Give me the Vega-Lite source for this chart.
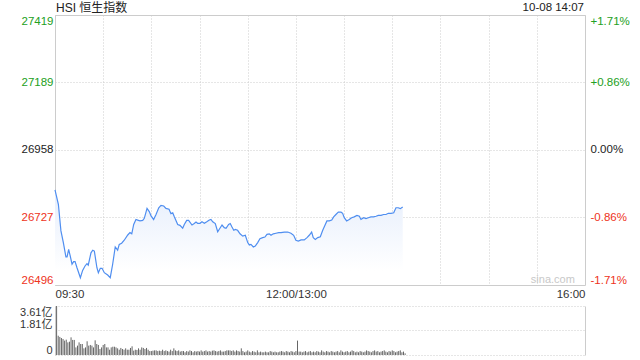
{
  "$schema": "https://vega.github.io/schema/vega-lite/v6.json",
  "padding": {"top": 1, "left": 5, "right": 5, "bottom": 5},
  "background": "#ffffff",
  "spacing": 5,
  "config": {
    "font": "Liberation Sans, Noto Sans CJK SC",
    "axis": {"labelFont": "Liberation Sans, Noto Sans CJK SC", "labelFontSize": 11.5, "labelColor": "#333"}
  },
  "datasets": {
    "line": [
      {"t":0,"p":26821},{"t":2.1,"p":26772},{"t":3.7,"p":26681},{"t":5.2,"p":26641},{"t":6.8,"p":26592},{"t":7.5,"p":26592},{"t":8.5,"p":26618},{"t":9.5,"p":26595},{"t":10.6,"p":26567},{"t":11.6,"p":26576},{"t":12.5,"p":26576},{"t":13.7,"p":26555},{"t":15.8,"p":26521},{"t":17.2,"p":26546},{"t":18.7,"p":26561},{"t":19.9,"p":26569},{"t":20.7,"p":26564},{"t":22.4,"p":26606},{"t":23.5,"p":26615},{"t":24.5,"p":26612},{"t":26.1,"p":26555},{"t":27.0,"p":26538},{"t":28.2,"p":26553},{"t":29.3,"p":26553},{"t":30.7,"p":26538},{"t":32.8,"p":26530},{"t":34.4,"p":26521},{"t":35.9,"p":26567},{"t":37.5,"p":26626},{"t":39.0,"p":26615},{"t":40.0,"p":26635},{"t":41.5,"p":26639},{"t":43.1,"p":26649},{"t":45.3,"p":26667},{"t":46.7,"p":26675},{"t":47.8,"p":26671},{"t":49.0,"p":26703},{"t":50.4,"p":26720},{"t":51.9,"p":26717},{"t":52.9,"p":26715},{"t":54.6,"p":26717},{"t":55.6,"p":26724},{"t":57.3,"p":26758},{"t":58.7,"p":26747},{"t":59.8,"p":26732},{"t":61.4,"p":26720},{"t":62.9,"p":26737},{"t":64.6,"p":26760},{"t":66.0,"p":26768},{"t":67.7,"p":26766},{"t":69.1,"p":26758},{"t":71.0,"p":26755},{"t":72.2,"p":26740},{"t":73.3,"p":26743},{"t":74.3,"p":26729},{"t":76.4,"p":26703},{"t":77.8,"p":26700},{"t":79.5,"p":26690},{"t":80.5,"p":26703},{"t":82.0,"p":26717},{"t":83.2,"p":26717},{"t":85.3,"p":26701},{"t":86.7,"p":26706},{"t":87.8,"p":26711},{"t":88.8,"p":26707},{"t":90.3,"p":26707},{"t":91.5,"p":26712},{"t":93.0,"p":26707},{"t":94.5,"p":26712},{"t":96.1,"p":26718},{"t":97.1,"p":26720},{"t":98.2,"p":26712},{"t":99.8,"p":26706},{"t":101.3,"p":26678},{"t":102.7,"p":26690},{"t":104.0,"p":26701},{"t":105.4,"p":26692},{"t":106.5,"p":26690},{"t":108.1,"p":26703},{"t":109.1,"p":26706},{"t":110.2,"p":26694},{"t":111.3,"p":26683},{"t":112.3,"p":26686},{"t":113.7,"p":26683},{"t":115.2,"p":26671},{"t":116.9,"p":26663},{"t":118.5,"p":26666},{"t":120.0,"p":26641},{"t":121.0,"p":26633},{"t":122.0,"p":26635},{"t":123.5,"p":26626},{"t":124.7,"p":26629},{"t":126.2,"p":26641},{"t":127.6,"p":26654},{"t":129.3,"p":26658},{"t":130.7,"p":26660},{"t":132.0,"p":26669},{"t":133.4,"p":26671},{"t":134.5,"p":26666},{"t":135.9,"p":26671},{"t":137.6,"p":26673},{"t":139.3,"p":26675},{"t":140.7,"p":26675},{"t":142.8,"p":26677},{"t":144.9,"p":26677},{"t":146.9,"p":26673},{"t":148.6,"p":26666},{"t":150.0,"p":26649},{"t":151.5,"p":26646},{"t":153.2,"p":26650},{"t":155.2,"p":26650},{"t":156.9,"p":26658},{"t":158.3,"p":26666},{"t":159.8,"p":26677},{"t":160.8,"p":26658},{"t":162.1,"p":26652},{"t":163.6,"p":26658},{"t":165.2,"p":26661},{"t":166.7,"p":26683},{"t":168.1,"p":26700},{"t":169.3,"p":26715},{"t":170.8,"p":26715},{"t":172.3,"p":26718},{"t":173.5,"p":26729},{"t":174.9,"p":26737},{"t":176.4,"p":26745},{"t":178.1,"p":26745},{"t":179.1,"p":26741},{"t":180.1,"p":26726},{"t":181.6,"p":26715},{"t":183.2,"p":26720},{"t":184.7,"p":26726},{"t":186.3,"p":26729},{"t":188.0,"p":26734},{"t":189.5,"p":26731},{"t":190.5,"p":26720},{"t":192.2,"p":26726},{"t":193.6,"p":26723},{"t":195.1,"p":26726},{"t":196.7,"p":26729},{"t":198.4,"p":26729},{"t":199.9,"p":26731},{"t":201.3,"p":26734},{"t":203.0,"p":26734},{"t":204.6,"p":26737},{"t":206.1,"p":26737},{"t":207.5,"p":26741},{"t":209.2,"p":26741},{"t":210.9,"p":26743},{"t":212.3,"p":26760},{"t":213.7,"p":26760},{"t":215.0,"p":26757},{"t":216.5,"p":26763}
    ],
    "vol": [
      {"i":0,"v":3.61},{"i":1,"v":1.42},{"i":2,"v":1.33},{"i":3,"v":1.25},{"i":4,"v":1.18},{"i":5,"v":1.06},{"i":6,"v":1.13},{"i":7,"v":0.93},{"i":8,"v":0.98},{"i":9,"v":1.30},{"i":10,"v":1.11},
      {"i":11,"v":1.11},{"i":12,"v":0.56},{"i":13,"v":0.69},{"i":14,"v":0.93},{"i":15,"v":0.81},{"i":16,"v":0.81},{"i":17,"v":0.49},{"i":18,"v":0.56},{"i":19,"v":1.01},{"i":20,"v":0.69},
      {"i":21,"v":0.74},{"i":22,"v":0.69},{"i":23,"v":0.56},{"i":24,"v":1.08},{"i":25,"v":0.81},{"i":26,"v":0.74},{"i":27,"v":0.44},{"i":28,"v":0.56},{"i":29,"v":0.74},{"i":30,"v":0.81},
      {"i":31,"v":0.56},{"i":32,"v":0.56},{"i":33,"v":0.39},{"i":34,"v":0.56},{"i":35,"v":0.61},{"i":36,"v":0.61},{"i":37,"v":0.56},{"i":38,"v":0.49},{"i":39,"v":0.39},{"i":40,"v":0.52},
      {"i":41,"v":0.44},{"i":42,"v":0.39},{"i":43,"v":0.49},{"i":44,"v":0.39},{"i":45,"v":0.39},{"i":46,"v":0.52},{"i":47,"v":0.64},{"i":48,"v":0.32},{"i":49,"v":0.39},{"i":50,"v":0.37},
      {"i":51,"v":0.49},{"i":52,"v":0.39},{"i":53,"v":0.56},{"i":54,"v":0.52},{"i":55,"v":0.44},{"i":56,"v":0.52},{"i":57,"v":0.39},{"i":58,"v":0.29},{"i":59,"v":0.29},{"i":60,"v":0.32},
      {"i":61,"v":0.34},{"i":62,"v":0.34},{"i":63,"v":0.29},{"i":64,"v":0.32},{"i":65,"v":0.29},{"i":66,"v":0.39},{"i":67,"v":0.29},{"i":68,"v":0.34},{"i":69,"v":0.29},{"i":70,"v":0.25},
      {"i":71,"v":0.39},{"i":72,"v":0.29},{"i":73,"v":0.49},{"i":74,"v":0.34},{"i":75,"v":0.29},{"i":76,"v":0.34},{"i":77,"v":0.25},{"i":78,"v":0.29},{"i":79,"v":0.29},{"i":80,"v":0.20},
      {"i":81,"v":0.29},{"i":82,"v":0.25},{"i":83,"v":0.34},{"i":84,"v":0.29},{"i":85,"v":0.20},{"i":86,"v":0.29},{"i":87,"v":0.25},{"i":88,"v":0.29},{"i":89,"v":0.25},{"i":90,"v":0.34},
      {"i":91,"v":0.25},{"i":92,"v":0.29},{"i":93,"v":0.34},{"i":94,"v":0.25},{"i":95,"v":0.29},{"i":96,"v":0.25},{"i":97,"v":0.32},{"i":98,"v":0.34},{"i":99,"v":0.29},{"i":100,"v":0.25},
      {"i":101,"v":0.29},{"i":102,"v":0.34},{"i":103,"v":0.25},{"i":104,"v":0.25},{"i":105,"v":0.29},{"i":106,"v":0.34},{"i":107,"v":0.34},{"i":108,"v":0.34},{"i":109,"v":0.29},{"i":110,"v":0.34},
      {"i":111,"v":0.25},{"i":112,"v":0.34},{"i":113,"v":0.29},{"i":114,"v":0.25},{"i":115,"v":0.49},{"i":116,"v":0.29},{"i":117,"v":0.20},{"i":118,"v":0.25},{"i":119,"v":0.34},{"i":120,"v":0.25},
      {"i":121,"v":0.20},{"i":122,"v":0.29},{"i":123,"v":0.25},{"i":124,"v":0.20},{"i":125,"v":0.34},{"i":126,"v":0.20},{"i":127,"v":0.25},{"i":128,"v":0.20},{"i":129,"v":0.20},{"i":130,"v":0.25},
      {"i":131,"v":0.20},{"i":132,"v":0.20},{"i":133,"v":0.29},{"i":134,"v":0.25},{"i":135,"v":0.20},{"i":136,"v":0.25},{"i":137,"v":0.20},{"i":138,"v":0.20},{"i":139,"v":0.25},{"i":140,"v":0.29},
      {"i":141,"v":0.25},{"i":142,"v":0.20},{"i":143,"v":0.29},{"i":144,"v":0.25},{"i":145,"v":0.20},{"i":146,"v":0.29},{"i":147,"v":0.25},{"i":148,"v":0.20},{"i":149,"v":0.29},{"i":150,"v":1.06},
      {"i":151,"v":0.25},{"i":152,"v":0.25},{"i":153,"v":0.20},{"i":154,"v":0.25},{"i":155,"v":0.29},{"i":156,"v":0.20},{"i":157,"v":0.25},{"i":158,"v":0.29},{"i":159,"v":0.20},{"i":160,"v":0.25},
      {"i":161,"v":0.20},{"i":162,"v":0.29},{"i":163,"v":0.25},{"i":164,"v":0.20},{"i":165,"v":0.34},{"i":166,"v":0.25},{"i":167,"v":0.20},{"i":168,"v":0.29},{"i":169,"v":0.25},{"i":170,"v":0.20},
      {"i":171,"v":0.29},{"i":172,"v":0.25},{"i":173,"v":0.20},{"i":174,"v":0.25},{"i":175,"v":0.29},{"i":176,"v":0.20},{"i":177,"v":0.34},{"i":178,"v":0.25},{"i":179,"v":0.20},{"i":180,"v":0.25},
      {"i":181,"v":0.29},{"i":182,"v":0.20},{"i":183,"v":0.25},{"i":184,"v":0.34},{"i":185,"v":0.29},{"i":186,"v":0.20},{"i":187,"v":0.25},{"i":188,"v":0.20},{"i":189,"v":0.29},{"i":190,"v":0.25},
      {"i":191,"v":0.20},{"i":192,"v":0.25},{"i":193,"v":0.34},{"i":194,"v":0.29},{"i":195,"v":0.25},{"i":196,"v":0.20},{"i":197,"v":0.29},{"i":198,"v":0.34},{"i":199,"v":0.25},{"i":200,"v":0.29},
      {"i":201,"v":0.20},{"i":202,"v":0.25},{"i":203,"v":0.29},{"i":204,"v":0.34},{"i":205,"v":0.25},{"i":206,"v":0.20},{"i":207,"v":0.29},{"i":208,"v":0.25},{"i":209,"v":0.34},{"i":210,"v":0.29},
      {"i":211,"v":0.20},{"i":212,"v":0.25},{"i":213,"v":0.29},{"i":214,"v":0.34},{"i":215,"v":0.20},{"i":216,"v":0.25},{"i":217,"v":0.12}
    ]
  },
  "vconcat": [
    {
      "width": 530,
      "height": 270,
      "view": {"stroke": "#cccccc", "strokeWidth": 1},
      "layer": [
        {
          "data": {"name": "line"},
          "mark": {"type": "area", "color": {"x1": 0, "y1": 0, "x2": 0, "y2": 1, "gradient": "linear", "stops": [{"offset": 0, "color": "#e6eefc"}, {"offset": 0.85, "color": "#ffffff"}]}},
          "encoding": {
            "x": {"field": "t", "type": "quantitative", "scale": {"domain": [0, 330], "nice": false, "zero": false},
              "axis": {"title": null, "values": [0,30,60,90,120,150,180,210,240,270,300,330], "grid": true, "gridColor": "#cccccc", "gridDash": [1, 2], "ticks": false, "domain": false, "labelFlush": true, "labelOverlap": false, "labelPadding": 3,
                "labelExpr": "datum.value == 0 ? '09:30' : datum.value == 150 ? '12:00/13:00' : datum.value == 330 ? '16:00' : ''"}},
            "y": {"field": "p", "type": "quantitative", "scale": {"domain": [26496, 27419], "nice": false, "zero": false},
              "axis": {"title": null, "orient": "left", "format": "d", "values": [26496, 26727, 26958, 27189, 27419], "grid": true, "gridColor": "#cccccc", "gridDash": [1, 2], "ticks": false, "domain": false, "labelFlush": true, "labelPadding": 2, "minExtent": 49, "maxExtent": 49,
                "labelColor": {"condition": [{"test": "datum.value > 26960", "value": "#22a022"}, {"test": "datum.value < 26956", "value": "#ee3322"}], "value": "#222222"}}},
            "y2": {"datum": 26496}
          }
        },
        {
          "data": {"name": "line"},
          "mark": {"type": "line", "color": "#4f8ef0", "strokeWidth": 1.2},
          "encoding": {
            "x": {"field": "t", "type": "quantitative"},
            "y": {"field": "p", "type": "quantitative", "scale": {"domain": [26496, 27419], "nice": false, "zero": false},
              "axis": {"title": null, "orient": "right", "values": [26496, 26727, 26958, 27189, 27419], "grid": false, "ticks": false, "domain": false, "labelFlush": true, "labelPadding": 5,
                "labelExpr": "abs(datum.value - 26958) < 1 ? '0.00%' : (datum.value > 26958 ? '+' : '-') + format(abs(datum.value - 26958) / 26958 * 100, '.2f') + '%'",
                "labelColor": {"condition": [{"test": "datum.value > 26960", "value": "#22a022"}, {"test": "datum.value < 26956", "value": "#ee3322"}], "value": "#222222"}}}
          }
        },
        {
          "data": {"values": [{"label": "sina.com"}]},
          "mark": {"type": "text", "color": "#c8c8c8", "fontSize": 11, "align": "center", "baseline": "middle"},
          "encoding": {
            "text": {"field": "label"},
            "x": {"datum": 310, "type": "quantitative"},
            "y": {"datum": 26513, "type": "quantitative", "scale": {"domain": [26496, 27419], "nice": false, "zero": false}, "axis": null}
          }
        },
        {
          "data": {"values": [{"label": "HSI 恒生指数"}]},
          "mark": {"type": "text", "color": "#222222", "fontSize": 12, "align": "left", "baseline": "middle", "dx": 1, "dy": -7},
          "encoding": {
            "text": {"field": "label"},
            "x": {"datum": 0, "type": "quantitative"},
            "y": {"datum": 27419, "type": "quantitative", "scale": {"domain": [26496, 27419], "nice": false, "zero": false}, "axis": null}
          }
        },
        {
          "data": {"values": [{"label": "10-08 14:07"}]},
          "mark": {"type": "text", "color": "#222222", "fontSize": 11.5, "align": "right", "baseline": "middle", "dx": -1, "dy": -7},
          "encoding": {
            "text": {"field": "label"},
            "x": {"datum": 330, "type": "quantitative"},
            "y": {"datum": 27419, "type": "quantitative", "scale": {"domain": [26496, 27419], "nice": false, "zero": false}, "axis": null}
          }
        }
      ],
      "resolve": {"scale": {"y": "independent"}}
    },
    {
      "width": 530,
      "height": 49,
      "view": {"stroke": null},
      "layer": [
        {
          "data": {"name": "vol"},
          "mark": {"type": "rule", "color": "#666666", "strokeWidth": 1},
          "encoding": {
            "x": {"field": "i", "type": "quantitative", "scale": {"domain": [-1, 329], "nice": false, "zero": false}, "axis": null},
            "y": {"field": "v", "type": "quantitative", "scale": {"domain": [0, 3.61], "nice": false},
              "axis": {"title": null, "orient": "left", "values": [0, 1.81, 3.61], "grid": true, "gridColor": "#cccccc", "gridDash": [1, 2], "ticks": false, "domain": true, "domainColor": "#cccccc", "labelFlush": true, "labelPadding": 3, "labelFontSize": 11, "minExtent": 49, "maxExtent": 49,
                "labelOffset": {"condition": {"test": "datum.value == 1.81", "value": -6}, "value": 0},
                "labelExpr": "datum.value == 0 ? '0' : format(datum.value, '.2f') + '亿'"}},
            "y2": {"datum": 0}
          }
        },
        {
          "data": {"name": "vol"},
          "mark": {"type": "rule", "opacity": 0},
          "encoding": {
            "x": {"field": "i", "type": "quantitative"},
            "y": {"field": "v", "type": "quantitative", "scale": {"domain": [0, 3.61], "nice": false},
              "axis": {"title": null, "orient": "right", "labels": false, "ticks": false, "grid": false, "domain": true, "domainColor": "#cccccc"}}
          }
        }
      ],
      "resolve": {"scale": {"y": "independent"}}
    }
  ]
}
